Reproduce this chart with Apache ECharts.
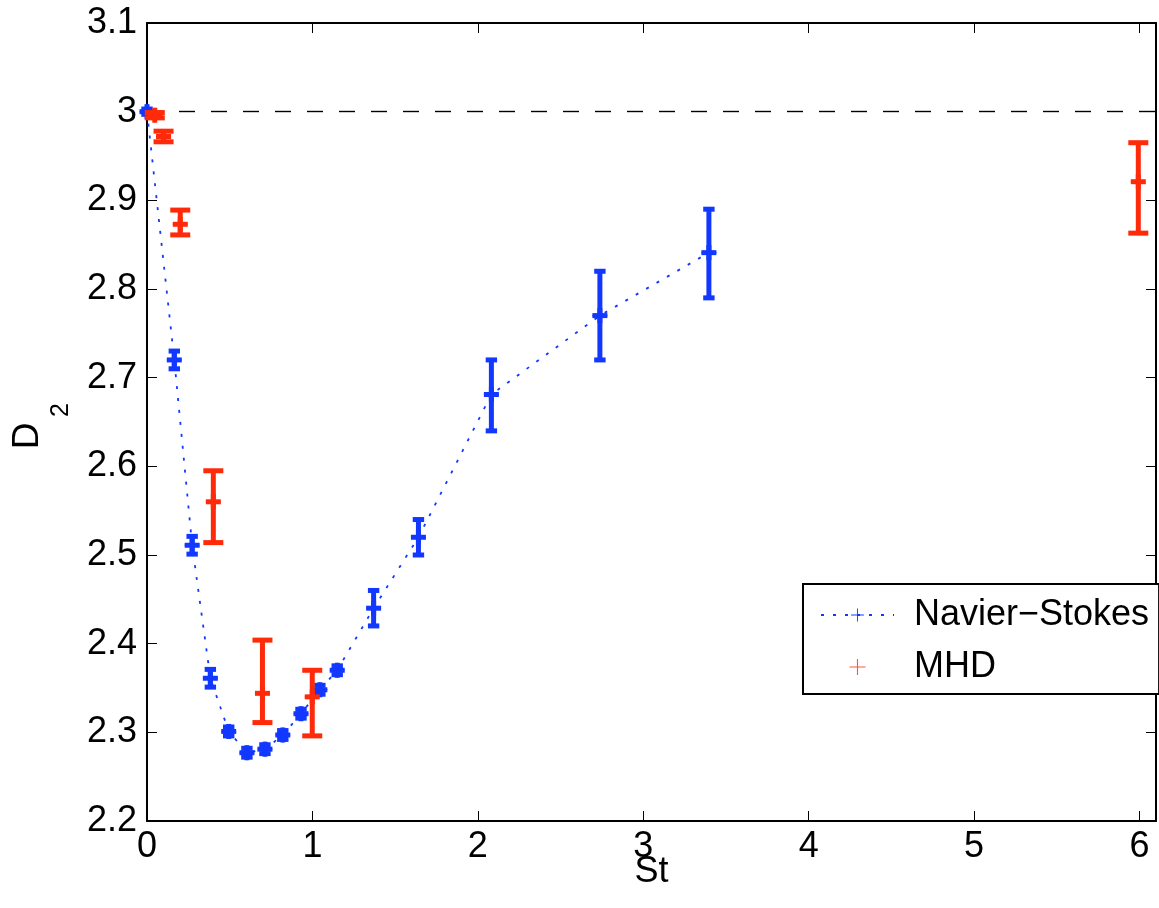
<!DOCTYPE html>
<html>
<head>
<meta charset="utf-8">
<script src="https://cdn.jsdelivr.net/npm/echarts@6/dist/echarts.min.js"></script>
<style>html,body{margin:0;padding:0;background:#fff;}#c{width:1159px;height:908px;}</style>
</head>
<body>
<div id="c"></div>
<script>
// ---- data ----
var xTickLabels = ['0', '1', '2', '3', '4', '5', '6'];
var yTickLabels = ['2.2', '2.3', '2.4', '2.5', '2.6', '2.7', '2.8', '2.9', '3', '3.1'];

var nsSt   = [0, 0.165, 0.273, 0.383, 0.494, 0.604, 0.713, 0.821, 0.931, 1.045, 1.15, 1.37, 1.641, 2.082, 2.738, 3.397];
var nsD    = [3.0, 2.720, 2.511, 2.361, 2.301, 2.277, 2.281, 2.297, 2.321, 2.348, 2.370, 2.440, 2.520, 2.681, 2.770, 2.841];
var nsLow  = [2.997, 2.710, 2.501, 2.351, 2.296, 2.272, 2.276, 2.292, 2.316, 2.343, 2.365, 2.420, 2.500, 2.640, 2.720, 2.790];
var nsHigh = [3.003, 2.730, 2.521, 2.371, 2.306, 2.282, 2.286, 2.302, 2.326, 2.353, 2.375, 2.460, 2.540, 2.720, 2.820, 2.890];

var mhdSt   = [0.047, 0.100, 0.201, 0.401, 0.698, 0.999, 5.993];
var mhdD    = [2.996, 2.972, 2.873, 2.560, 2.344, 2.340, 2.921];
var mhdLow  = [2.993, 2.966, 2.861, 2.514, 2.311, 2.296, 2.863];
var mhdHigh = [2.999, 2.978, 2.889, 2.595, 2.404, 2.370, 2.965];

var refLevel = 3.0;
var nsName = 'Navier\u2212Stokes';
var mhdName = 'MHD';

// ---- styling ----
var FONT = '"Liberation Sans", Arial, Helvetica, sans-serif';
var BLUE = '#1238ff';
var RED = '#ff2a0a';
var PLUS = 'path://M-1,-0.07L1,-0.07L1,0.07L-1,0.07Z M-0.07,-1L0.07,-1L0.07,1L-0.07,1Z';

function zip(a, b, c, d) {
  return a.map(function (v, i) { return c ? [v, b[i], c[i], d[i]] : [v, b[i]]; });
}

function errRender(capHW, color) {
  return function (params, api) {
    var x = api.value(0), y = api.value(1), lo = api.value(2), hi = api.value(3);
    var p = api.coord([x, y]), pl = api.coord([x, lo]), ph = api.coord([x, hi]);
    var st = { stroke: color, lineWidth: 5, fill: null };
    var mk = 7.5;
    return {
      type: 'group',
      children: [
        { type: 'line', shape: { x1: pl[0], y1: pl[1], x2: ph[0], y2: ph[1] }, style: st },
        { type: 'line', shape: { x1: pl[0] - capHW, y1: pl[1], x2: pl[0] + capHW, y2: pl[1] }, style: st },
        { type: 'line', shape: { x1: ph[0] - capHW, y1: ph[1], x2: ph[0] + capHW, y2: ph[1] }, style: st },
        { type: 'line', shape: { x1: p[0] - mk, y1: p[1], x2: p[0] + mk, y2: p[1] }, style: st },
        { type: 'line', shape: { x1: p[0], y1: p[1] - mk, x2: p[0], y2: p[1] + mk }, style: st }
      ]
    };
  };
}

var axisCommon = {
  axisLine: { show: true, onZero: false, lineStyle: { color: '#000', width: 2 } },
  axisTick: { show: true, inside: true, length: 10, lineStyle: { color: '#000', width: 1 } },
  splitLine: { show: false }
};

function xFmt(v) {
  var i = Math.round(v);
  return (Math.abs(v - i) < 1e-6 && i >= 0 && i < xTickLabels.length) ? xTickLabels[i] : '';
}
function yFmt(v) {
  var i = Math.round((v - 2.2) * 10);
  return (Math.abs((v - 2.2) * 10 - i) < 1e-6 && i >= 0 && i < yTickLabels.length) ? yTickLabels[i] : '';
}

var chart = echarts.init(document.getElementById('c'), null, { renderer: 'canvas' });
chart.setOption({
  animation: false,
  backgroundColor: '#fff',
  grid: { left: 147, top: 23, width: 1013, height: 798, containLabel: false },
  xAxis: [
    Object.assign({}, axisCommon, {
      type: 'value', position: 'bottom', min: 0, max: 6.1, interval: 1,
      axisLabel: { formatter: xFmt, color: '#000', fontSize: 36, fontFamily: FONT, margin: 8 },
      name: 'St', nameLocation: 'middle', nameGap: 33, nameMoveOverlap: false,
      nameTextStyle: { color: '#000', fontSize: 36, fontFamily: FONT }
    }),
    Object.assign({}, axisCommon, {
      type: 'value', position: 'top', min: 0, max: 6.1, interval: 1,
      axisLabel: { show: false }
    })
  ],
  yAxis: [
    Object.assign({}, axisCommon, {
      type: 'value', position: 'left', min: 2.2, max: 3.1, interval: 0.1,
      axisLabel: { formatter: yFmt, color: '#000', fontSize: 36, fontFamily: FONT, margin: 10 }
    }),
    Object.assign({}, axisCommon, {
      type: 'value', position: 'right', min: 2.2, max: 3.1, interval: 0.1,
      axisLabel: { show: false }
    })
  ],
  legend: {
    orient: 'vertical', left: 803, top: 584,
    padding: [11, 10, 7, 17],
    itemWidth: 73, itemHeight: 16, itemGap: 12,
    borderColor: '#000', borderWidth: 2, borderRadius: 0, backgroundColor: '#fff',
    textStyle: { color: '#000', fontSize: 36, fontFamily: FONT, lineHeight: 40, padding: [0, 0, 0, 15] },
    data: [nsName, mhdName]
  },
  graphic: [
    { type: 'text', x: 28, y: 436, rotation: Math.PI / 2,
      style: { text: 'D', fontSize: 37, fontFamily: FONT, fill: '#000', align: 'center', verticalAlign: 'middle' } },
    { type: 'text', x: 61, y: 410, rotation: Math.PI / 2,
      style: { text: '2', fontSize: 25, fontFamily: FONT, fill: '#000', align: 'center', verticalAlign: 'middle' } }
  ],
  series: [
    {
      name: nsName, type: 'line', data: zip(nsSt, nsD),
      symbol: PLUS, symbolSize: 15, showSymbol: true,
      itemStyle: { color: BLUE },
      lineStyle: { color: BLUE, width: 1.8, type: [3, 9] },
      z: 3,
      markLine: {
        silent: true, symbol: 'none', label: { show: false },
        lineStyle: { color: '#000', width: 1.4, type: [16, 16] },
        data: [{ yAxis: refLevel }], z: 1
      }
    },
    {
      name: nsName + ' err', type: 'custom', data: zip(nsSt, nsD, nsLow, nsHigh),
      encode: { x: 0, y: 1 }, renderItem: errRender(5.7, BLUE), z: 4
    },
    {
      name: mhdName, type: 'scatter', data: zip(mhdSt, mhdD),
      symbol: PLUS, symbolSize: 15, itemStyle: { color: RED }, z: 3
    },
    {
      name: mhdName + ' err', type: 'custom', data: zip(mhdSt, mhdD, mhdLow, mhdHigh),
      encode: { x: 0, y: 1 }, renderItem: errRender(10, RED), z: 4
    }
  ]
});
</script>
</body>
</html>
